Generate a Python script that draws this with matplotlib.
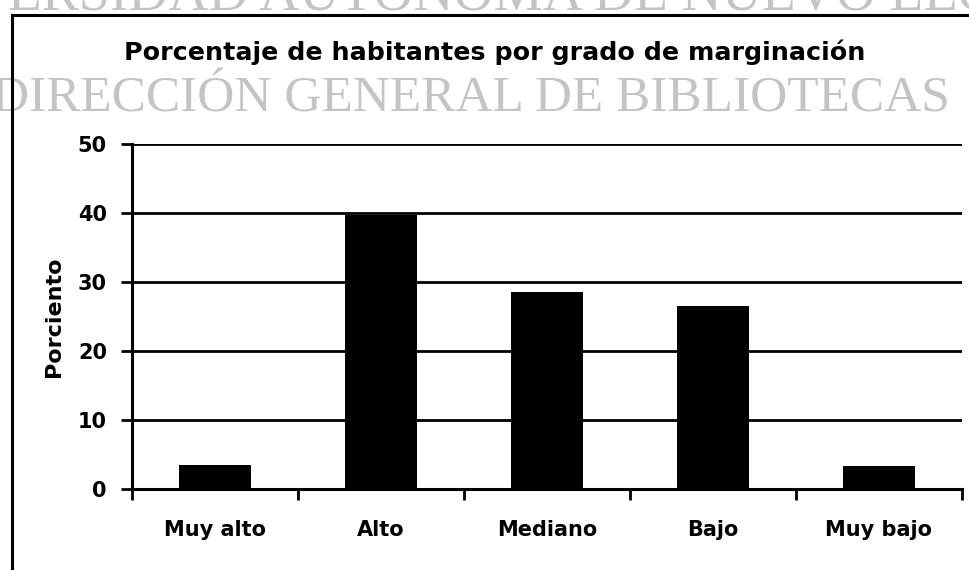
import matplotlib
matplotlib.use("Agg")
import matplotlib.pyplot as plt
from matplotlib.lines import Line2D

# Datos
categorias = ["Muy alto", "Alto", "Mediano", "Bajo", "Muy bajo"]
porcentajes = [3.5, 39.7, 28.5, 26.5, 3.4]
y_ticks = [0, 10, 20, 30, 40, 50]

titulo = "Porcentaje de habitantes por grado de marginación"
marca_sup = "UNIVERSIDAD AUTÓNOMA DE NUEVO LEÓN"
marca_inf = "DIRECCIÓN GENERAL DE BIBLIOTECAS"

plt.rcParams["font.family"] = ["DejaVu Sans"]

fig = plt.figure(figsize=(9.7, 5.7), dpi=100)
fig.patch.set_facecolor("white")

# Marca de agua del escaneo (texto gris)
gris = "#c4c4c4"
fig.text(-0.135, 0.982, marca_sup, family="Liberation Serif", fontsize=40,
         color=gris, ha="left", va="baseline", zorder=0)
fig.text(-0.008, 0.805, marca_inf, family="Liberation Serif", fontsize=37,
         color=gris, ha="left", va="baseline", zorder=0)

# Marco del gráfico
fig.add_artist(Line2D([12 / 970, 12 / 970], [0, 555 / 570], color="black",
                      lw=2.2, transform=fig.transFigure))
fig.add_artist(Line2D([12 / 970, 1.0], [555 / 570, 555 / 570], color="black",
                      lw=2.2, transform=fig.transFigure))

ax = fig.add_axes([132 / 970, 81 / 570, 830 / 970, 345 / 570])
x = list(range(len(categorias)))
ax.bar(x, porcentajes, width=0.43, color="black", zorder=3)

ax.set_xlim(-0.5, len(categorias) - 0.5)
ax.set_ylim(0, 50)
ax.set_yticks(y_ticks)
ax.set_yticklabels([str(v) for v in y_ticks])
ax.yaxis.grid(True, color="black", lw=2.0, zorder=1)
ax.set_axisbelow(True)

# Etiquetas centradas y marcas entre categorías
ax.set_xticks(x)
ax.set_xticklabels(categorias)
ax.set_xticks([i - 0.5 for i in range(len(categorias) + 1)], minor=True)
ax.tick_params(axis="x", which="major", length=0, pad=22)
ax.tick_params(axis="x", which="minor", length=8, width=2, direction="out")
ax.tick_params(axis="y", length=8, width=2, direction="out", pad=10)
for lbl in ax.get_xticklabels() + ax.get_yticklabels():
    lbl.set_fontsize(15)
    lbl.set_fontweight("bold")

for s in ["top", "right"]:
    ax.spines[s].set_visible(False)
ax.spines["left"].set_linewidth(2.2)
ax.spines["bottom"].set_linewidth(2.2)

ax.set_ylabel("Porciento", fontsize=16, fontweight="bold", labelpad=10)
fig.text(495 / 970, 1 - 52 / 570, titulo, fontsize=18.3, fontweight="bold",
         ha="center", va="center")

plt.savefig("out.png", dpi=100)
plt.close()
